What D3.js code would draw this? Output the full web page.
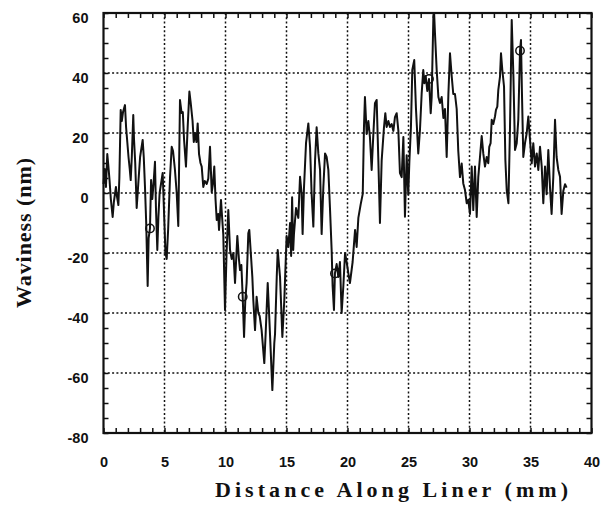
<!DOCTYPE html>
<html>
<head>
<meta charset="utf-8">
<script src="https://cdn.jsdelivr.net/npm/d3@7"></script>
<style>
  body { margin: 0; background: #fff; }
</style>
</head>
<body>
<div id="chart"></div>
<script>
// values (mm, nm)
var distance = [0.00,0.10,0.20,0.31,0.40,0.50,0.60,0.75,0.85,1.02,1.10,1.22,1.30,1.41,1.50,1.60,1.76,1.85,1.95,2.05,2.15,2.23,2.32,2.44,2.50,2.60,2.72,2.85,3.00,3.21,3.30,3.40,3.50,3.62,3.70,3.81,3.90,4.00,4.10,4.22,4.30,4.41,4.50,4.60,4.75,4.85,4.95,5.08,5.18,5.30,5.45,5.59,5.70,5.85,6.00,6.13,6.20,6.27,6.40,6.50,6.60,6.76,6.90,7.04,7.15,7.30,7.40,7.50,7.62,7.72,7.83,7.95,8.05,8.18,8.30,8.46,8.59,8.73,8.87,8.97,9.08,9.18,9.28,9.40,9.47,9.63,9.72,9.82,9.96,10.09,10.23,10.37,10.51,10.65,10.78,10.97,11.10,11.19,11.30,11.41,11.52,11.62,11.73,11.87,11.95,12.09,12.20,12.28,12.42,12.55,12.69,12.80,12.96,13.18,13.29,13.46,13.55,13.65,13.84,14.00,14.06,14.20,14.28,14.47,14.66,14.82,15.01,15.15,15.29,15.38,15.46,15.55,15.61,15.78,15.97,16.11,16.24,16.32,16.43,16.60,16.79,16.93,17.06,17.20,17.34,17.47,17.61,17.75,17.88,18.02,18.16,18.29,18.43,18.57,18.70,18.78,18.89,18.97,19.11,19.25,19.38,19.52,19.66,19.80,19.93,20.07,20.20,20.42,20.62,20.75,20.89,21.08,21.25,21.35,21.43,21.57,21.71,21.84,21.98,22.12,22.25,22.39,22.53,22.66,22.80,22.99,23.10,23.21,23.35,23.48,23.62,23.76,23.89,24.03,24.17,24.30,24.44,24.58,24.71,24.85,24.98,25.07,25.20,25.31,25.47,25.61,25.80,25.94,26.08,26.21,26.30,26.41,26.54,26.68,26.82,26.90,27.04,27.10,27.17,27.31,27.45,27.58,27.72,27.86,27.99,28.13,28.27,28.40,28.54,28.67,28.81,28.95,29.08,29.22,29.36,29.49,29.63,29.77,29.90,30.04,30.18,30.31,30.45,30.59,30.72,30.86,31.00,31.13,31.27,31.41,31.54,31.62,31.73,31.82,31.95,32.09,32.17,32.28,32.36,32.50,32.58,32.69,32.83,32.94,33.05,33.19,33.32,33.46,33.60,33.73,33.87,34.00,34.14,34.22,34.30,34.41,34.55,34.69,34.82,34.96,35.10,35.23,35.37,35.51,35.64,35.78,35.92,36.05,36.19,36.32,36.46,36.60,36.73,36.87,37.01,37.14,37.28,37.42,37.55,37.69,37.83,37.96];
var waviness = [3,8,2,13,9,4,-2,-8,-3,2,-1,-4,5,27.7,24,27,29.3,22,17,12,8,4.3,12,26,18,10,-5,3,12,17.7,12,2,-10,-31,-15,-11.8,4.3,-2,3,10.4,-5,-19,-8,0,4,6.7,-5,-20,-22,-12,5,15.4,14,8,0,-11,10,31,26.7,27,18,8.8,22,33.8,30,24,17,20,17,23.2,13,10,8.8,2,4,3,4.8,15.4,0.3,3,8.8,-2,-9,-7,-12.3,-2.3,-8,-14,-39,-19.7,-5.7,-19,-22,-20,-30,-14.3,-22,-25.7,-24,-34.6,-48,-36,-30,-13.4,-12.3,-21,-28,-35.7,-45.7,-34.6,-40,-41,-45.7,-56.7,-47,-30,-38,-47.3,-65.7,-50,-47,-28,-19,-28,-48,-35.7,-14.3,-18,-10,-21,-1.4,-19,-13.7,-5,-8.3,5.4,-0.3,-13.7,1.4,16.6,23.2,15.4,-0.3,-11.2,10.8,21.9,13.2,7.7,-13.7,1.9,13.2,12,7.7,-5.7,-19,-31,-39,-26.8,-23.7,-28,-23,-40,-31,-20,-23,-26.8,-30,-23,-12.3,-18,-8.3,-3.8,-0.3,22,32,19.7,24,18.6,7.7,19.7,29.9,31,10.8,-10,10.8,21.9,26.6,22,24,22,23,20.7,25.3,26.6,20.7,6.6,5.3,18.7,-7.9,12.6,-0.6,10.3,22,41,44.3,28.3,13.2,21,33.2,41,36.6,39,34,38,26.6,32,58.8,60,53.2,41,32,30,32,25,28,12,33,46.6,39,33,33,28,14,5.3,9.8,3.2,1,-3.4,-2.3,-7,8.8,-5.7,8.8,-8,5.3,12,19,13.2,8.8,12,9.9,15.4,16.6,24.4,23,25.5,27.7,28.8,34.3,38.8,46.6,41,35.5,11,1,-3.4,21.9,57.7,38.8,14.3,16.6,24.4,47.4,51,33.2,12,16.6,20,25.5,17.7,9.9,16.6,8.8,13.2,7.7,15.4,8.8,-3.4,8.8,-0.4,14.3,1.8,-7,5.4,24.4,12,7.7,5.4,-7,0.7,2.9,1.8];

// open circle markers
var markerX = [3.81, 11.41, 18.97, 26.68, 34.14];
var markerY = [-11.8, -34.6, -26.8, 38, 47.4];

var xTicks = [0, 5, 10, 15, 20, 25, 30, 35, 40];
var yTicks = [-80, -60, -40, -20, 0, 20, 40, 60];

var width = 603, height = 505;
var plot = {left: 103.5, right: 591.5, top: 13, bottom: 433};

var svg = d3.select("#chart").append("svg")
    .attr("width", width)
    .attr("height", height)
    .style("background", "#fff");

var x = d3.scaleLinear().domain([0, 40]).range([plot.left, plot.right]);
var y = d3.scaleLinear().domain([-80, 60]).range([plot.bottom, plot.top]);

// dotted grid
var grid = svg.append("g").attr("stroke", "#111").attr("stroke-width", 1.5)
    .attr("stroke-dasharray", "2,2.3");
grid.selectAll("line.gx")
    .data(xTicks.filter(function (d) { return d > 0 && d < 40; }))
    .enter().append("line")
    .attr("x1", function (d) { return x(d); })
    .attr("x2", function (d) { return x(d); })
    .attr("y1", plot.top).attr("y2", plot.bottom);
grid.selectAll("line.gy")
    .data(yTicks.filter(function (d) { return d > -80 && d < 60; }))
    .enter().append("line")
    .attr("y1", function (d) { return y(d); })
    .attr("y2", function (d) { return y(d); })
    .attr("x1", plot.left).attr("x2", plot.right);

// inward minor ticks on all four sides
var xMinor = d3.range(0, 41, 1);
var yMinor = d3.range(-80, 61, 5);
function tickStyle(g) {
    g.select(".domain").remove();
    g.selectAll(".tick line").attr("stroke", "#111").attr("stroke-width", 1.5);
}
svg.append("g").attr("transform", "translate(0," + plot.bottom + ")")
    .call(d3.axisBottom(x).tickValues(xMinor).tickSize(-5).tickFormat(""))
    .call(tickStyle);
svg.append("g").attr("transform", "translate(0," + plot.top + ")")
    .call(d3.axisTop(x).tickValues(xMinor).tickSize(-5).tickFormat(""))
    .call(tickStyle);
svg.append("g").attr("transform", "translate(" + plot.left + ",0)")
    .call(d3.axisLeft(y).tickValues(yMinor).tickSize(-5).tickFormat(""))
    .call(tickStyle);
svg.append("g").attr("transform", "translate(" + plot.right + ",0)")
    .call(d3.axisRight(y).tickValues(yMinor).tickSize(-5).tickFormat(""))
    .call(tickStyle);

// tick labels (plain hyphen for minus, as in the scan)
function labelStyle(g) {
    g.select(".domain").remove();
    g.selectAll(".tick line").remove();
    g.selectAll(".tick text")
        .attr("fill", "#111")
        .style("font-family", "'Liberation Sans', Arial, sans-serif")
        .style("font-weight", "bold")
        .style("font-size", "14.5px");
}
svg.append("g").attr("transform", "translate(0," + plot.bottom + ")")
    .call(d3.axisBottom(x).tickValues(xTicks).tickSize(0).tickPadding(24).tickFormat(String))
    .call(labelStyle);
svg.append("g").attr("transform", "translate(" + plot.left + ",0)")
    .call(d3.axisLeft(y).tickValues(yTicks).tickSize(0).tickPadding(15).tickFormat(String))
    .call(labelStyle)
    .selectAll(".tick text").attr("dy", "0.66em");

// frame
svg.append("rect")
    .attr("x", plot.left).attr("y", plot.top)
    .attr("width", plot.right - plot.left)
    .attr("height", plot.bottom - plot.top)
    .attr("fill", "none").attr("stroke", "#111").attr("stroke-width", 2.2);

// the profile
var line = d3.line()
    .x(function (d, i) { return x(distance[i]); })
    .y(function (d) { return y(d); });
svg.append("path")
    .datum(waviness)
    .attr("d", line)
    .attr("fill", "none")
    .attr("stroke", "#111")
    .attr("stroke-width", 2)
    .attr("stroke-linejoin", "round");

svg.selectAll("circle.mk")
    .data(markerX)
    .enter().append("circle")
    .attr("cx", function (d) { return x(d); })
    .attr("cy", function (d, i) { return y(markerY[i]); })
    .attr("r", 4.2)
    .attr("fill", "none")
    .attr("stroke", "#111")
    .attr("stroke-width", 1.5);

// axis titles
svg.append("text")
    .attr("x", 215).attr("y", 497)
    .attr("textLength", 353).attr("lengthAdjust", "spacing")
    .style("font-family", "'Liberation Serif', 'Times New Roman', serif")
    .style("font-size", "22px")
    .style("font-weight", "bold")
    .attr("fill", "#111")
    .text("Distance Along Liner (mm)");
svg.append("text")
    .attr("transform", "translate(31,308) rotate(-90)")
    .attr("textLength", 150).attr("lengthAdjust", "spacing")
    .style("font-family", "'Liberation Serif', 'Times New Roman', serif")
    .style("font-size", "22px")
    .style("font-weight", "bold")
    .attr("fill", "#111")
    .text("Waviness (nm)");
</script>
</body>
</html>
